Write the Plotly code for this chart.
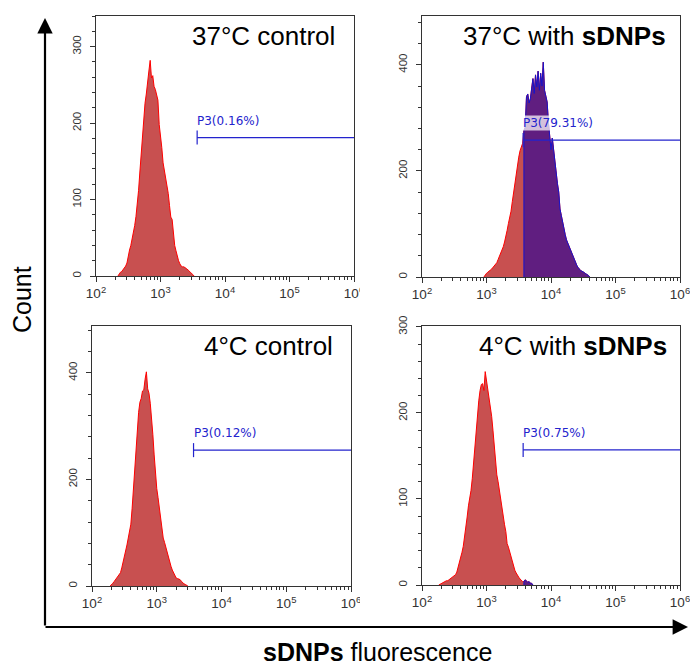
import numpy as np
import plotly.graph_objects as go

# histogram channels are on a log10 grid, one value every STEP decades
STEP = 0.02

ctrl37_start = 2.34
ctrl37_counts = [0, 3, 5, 6, 8, 10, 13, 17, 28, 34, 40, 48, 55, 66, 78, 94, 112, 136, 160, 185,
                 205, 226, 238, 250, 268, 282, 259, 262, 248, 244, 236, 230, 198, 185, 168, 148, 138, 130, 118, 108,
                 92, 77, 74, 55, 40, 33, 25, 20, 16, 13, 12, 12, 11, 10, 8, 7, 5, 4, 2, 0]

dnp37_start = 2.96
dnp37_counts = [0, 4, 7, 9, 12, 13, 15, 18, 21, 24, 27, 33, 39, 45, 50, 57, 66, 75, 88, 101,
                112, 124, 142, 160, 176, 191, 210, 226, 238, 245, 252, 276, 282, 340, 345, 328, 336, 356, 374, 346,
                381, 358, 388, 352, 384, 360, 405, 352, 338, 330, 292, 256, 240, 262, 238, 217, 192, 176, 160, 128,
                116, 102, 90, 80, 70, 64, 57, 51, 45, 38, 32, 27, 22, 18, 14, 12, 11, 10, 8, 6,
                5, 3, 0]

ctrl4_start = 2.28
ctrl4_counts = [0, 2, 5, 8, 11, 15, 19, 22, 25, 34, 44, 54, 65, 77, 90, 102, 116, 146, 185, 224,
                266, 300, 326, 345, 352, 366, 368, 388, 402, 370, 362, 343, 318, 284, 246, 208, 183, 166, 144, 122,
                104, 90, 82, 72, 65, 55, 46, 37, 30, 25, 20, 15, 14, 13, 12, 9, 6, 4, 3, 2,
                0]

dnp4_start = 2.26
dnp4_counts = [0, 1, 1, 2, 3, 4, 5, 5, 6, 7, 8, 10, 11, 12, 15, 20, 26, 32, 38, 45,
               55, 66, 79, 92, 100, 110, 124, 143, 163, 186, 201, 214, 226, 233, 234, 226, 248, 238, 229, 219,
               210, 196, 180, 162, 144, 128, 120, 110, 100, 88, 76, 70, 62, 48, 44, 38, 32, 26, 20, 17,
               14, 11, 9, 7, 5, 4, 4, 6, 5, 3, 4, 2, 2, 0]

titles = ["37°C control", "37°C with <b>sDNPs</b>", "4°C control", "4°C with <b>sDNPs</b>"]
gate_x = 3700
gate_levels = [181, 258, 255, 157]
gate_pct = ["0.16%", "79.31%", "0.12%", "0.75%"]
y_tops = [340, 492, 488, 301]
y_major = [100, 200, 200, 100]

x_tickvals = [1e2, 1e3, 1e4, 1e5, 1e6]
x_ticktext = ["10<sup>2</sup>", "10<sup>3</sup>", "10<sup>4</sup>", "10<sup>5</sup>", "10<sup>6</sup>"]

W, H = 690, 666
# panel boxes in pixels: left, right, top, bottom
boxes = [(96, 354, 16, 276), (422, 680, 16, 277), (92, 351, 326, 586), (422, 680, 326, 585)]
title_shift = [-17, -12, -16, -11]

RED_LINE = "rgb(255,0,0)"
RED_FILL = "rgb(200,80,80)"
BLUE_LINE = "rgb(20,20,205)"
BLUE_FILL = "rgb(96,30,128)"
GATE = "rgb(35,35,205)"
AX = "#333333"
FONT = "Liberation Sans, Arial"

minor_x = [m * 10 ** d for d in range(2, 6) for m in range(2, 10)]

fig = go.Figure()
panels = [(ctrl37_start, ctrl37_counts), (dnp37_start, dnp37_counts),
          (ctrl4_start, ctrl4_counts), (dnp4_start, dnp4_counts)]

for i, (start, counts) in enumerate(panels):
    n = "" if i == 0 else str(i + 1)
    xa, ya = "x" + n, "y" + n
    xs = [10 ** (start + k * STEP) for k in range(len(counts))]

    fig.add_trace(go.Scatter(x=xs, y=counts, mode="lines", fill="tozeroy",
                             line=dict(color=RED_LINE, width=1), fillcolor=RED_FILL,
                             xaxis=xa, yaxis=ya, hoverinfo="skip"))
    gx = [x for x in xs if x >= gate_x]
    gy = [c for x, c in zip(xs, counts) if x >= gate_x]
    if gx:
        fig.add_trace(go.Scatter(x=[gx[0]] + gx, y=[0] + gy, mode="lines", fill="tozeroy",
                                 line=dict(color=BLUE_LINE, width=1), fillcolor=BLUE_FILL,
                                 xaxis=xa, yaxis=ya, hoverinfo="skip"))

    # gate marker
    g = gate_levels[i]
    d = y_tops[i] * 0.027
    fig.add_trace(go.Scatter(x=[gate_x, 1e6], y=[g, g], mode="lines",
                             line=dict(color=GATE, width=1.2), xaxis=xa, yaxis=ya, hoverinfo="skip"))
    fig.add_trace(go.Scatter(x=[gate_x, gate_x], y=[g - d, g + d], mode="lines",
                             line=dict(color=GATE, width=1.2), xaxis=xa, yaxis=ya, hoverinfo="skip"))
    fig.add_annotation(x=np.log10(gate_x), y=g, xref=xa, yref=ya, text="P3(" + gate_pct[i] + ")",
                       showarrow=False, xanchor="left", yanchor="bottom", yshift=9, xshift=-1,
                       font=dict(family="DejaVu Sans", size=12, color=GATE),
                       bgcolor="rgba(255,255,255,0.72)" if i == 1 else None, borderpad=0)

    fig.add_annotation(x=1, y=1, xref=xa + " domain", yref=ya + " domain", text=titles[i],
                       showarrow=False, xanchor="right", yanchor="top", xshift=title_shift[i], yshift=-3,
                       font=dict(family=FONT, size=26, color="black"))

    l, r, t, b = boxes[i]
    axis_common = dict(showline=True, linecolor=AX, linewidth=1, mirror=True, showgrid=False,
                       zeroline=False, ticks="outside", tickcolor=AX, ticklen=5, automargin=False)
    fig.update_layout({
        "xaxis" + n: dict(axis_common, type="log", range=[2, 6], domain=[l / W, r / W],
                          anchor=ya, tickvals=x_tickvals, ticktext=x_ticktext,
                          ticklabeloverflow="allow",
                          tickfont=dict(family=FONT, size=13.5, color=AX),
                          minor=dict(tickvals=minor_x, ticks="outside", ticklen=3, tickcolor=AX)),
        "yaxis" + n: dict(axis_common, range=[0, y_tops[i]], domain=[1 - b / H, 1 - t / H],
                          anchor=xa, dtick=y_major[i], tickangle=-90, ticklabelstandoff=4,
                          tickfont=dict(family=FONT, size=11.5, color=AX),
                          minor=dict(dtick=y_major[i] / 5, ticks="outside", ticklen=3, tickcolor=AX)),
    })

# big axis arrows (tail given as pixel offset from the head)
fig.add_annotation(x=45 / W, y=1 - 18 / H, xref="paper", yref="paper", ax=0, ay=609,
                   text="", showarrow=True, arrowhead=2,
                   arrowsize=1.4, arrowwidth=2.2, arrowcolor="black")
fig.add_annotation(x=688 / W, y=1 - 627 / H, xref="paper", yref="paper", ax=-644, ay=0,
                   text="", showarrow=True, arrowhead=2,
                   arrowsize=1.4, arrowwidth=2.2, arrowcolor="black")
fig.add_annotation(x=22 / W, y=1 - 300 / H, xref="paper", yref="paper", text="Count",
                   showarrow=False, textangle=-90, xanchor="center", yanchor="middle",
                   font=dict(family=FONT, size=25, color="black"))
fig.add_annotation(x=377 / W, y=1 - 652 / H, xref="paper", yref="paper",
                   text="<b>sDNPs</b> fluorescence", showarrow=False,
                   xanchor="center", yanchor="middle",
                   font=dict(family=FONT, size=25, color="black"))

# the 10^6 labels of the left panels are cut off in the original figure
for y0, y1 in [(281, 314), (591, 622)]:
    fig.add_shape(type="rect", xref="paper", yref="paper", x0=360 / W, x1=385 / W,
                  y0=1 - y1 / H, y1=1 - y0 / H, fillcolor="white", line=dict(width=0), layer="above")

fig.update_layout(width=W, height=H, margin=dict(l=0, r=0, t=0, b=0),
                  plot_bgcolor="white", paper_bgcolor="white", showlegend=False)

# drop the page's default body margin so the figure sits at the window corner
fig.write_html("out.html", config={"displayModeBar": False},
               post_script="document.body.style.margin='0px';")
